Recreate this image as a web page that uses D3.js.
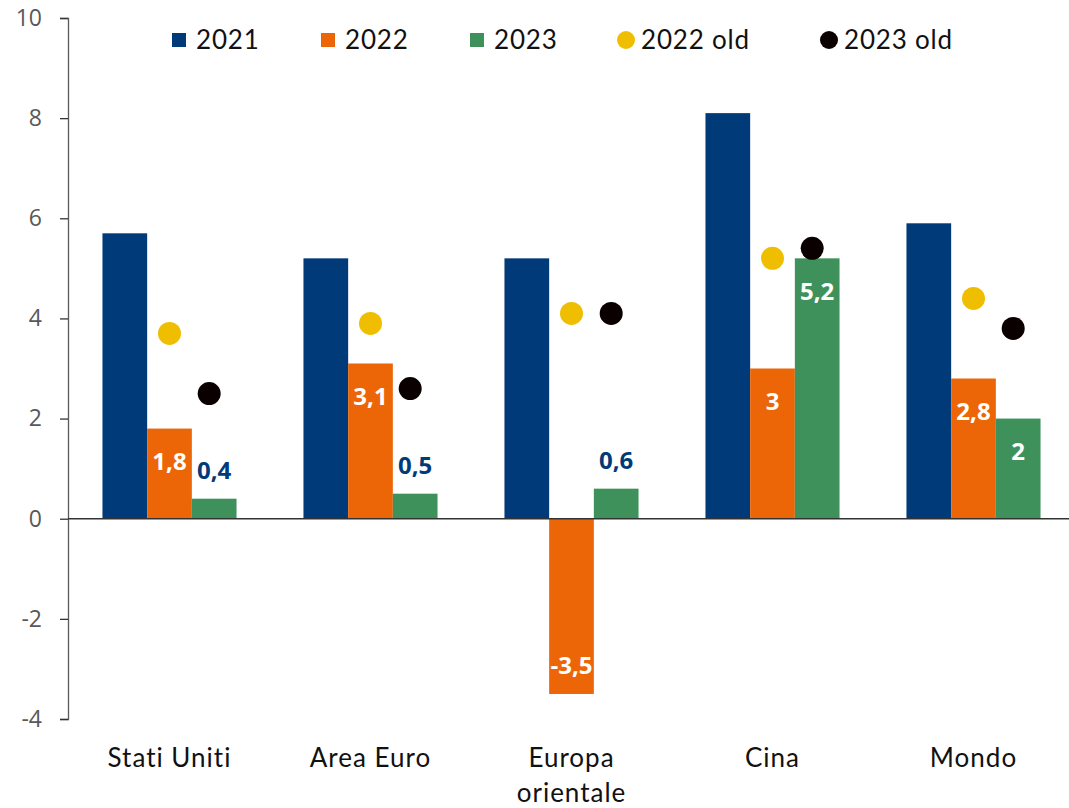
<!DOCTYPE html>
<html>
<head>
<meta charset="utf-8">
<script src="https://cdn.jsdelivr.net/npm/d3@7"></script>
<style>
  html, body { margin: 0; padding: 0; background: #fff; }
  svg { display: block; }
</style>
</head>
<body>
<svg id="chart" width="1069" height="808"></svg>
<script>
const categories = [["Stati Uniti"], ["Area Euro"], ["Europa", "orientale"], ["Cina"], ["Mondo"]];
const barSeries = ["2021", "2022", "2023"];
const v2021 = [5.7, 5.2, 5.2, 8.1, 5.9];
const v2022 = [1.8, 3.1, -3.5, 3.0, 2.8];
const v2023 = [0.4, 0.5, 0.6, 5.2, 2.0];
const old2022 = [3.7, 3.9, 4.1, 5.2, 4.4];
const old2023 = [2.5, 2.6, 4.1, 5.4, 3.8];
const yTicks = [-4, -2, 0, 2, 4, 6, 8, 10];

const colors = { "2021": "#003A78", "2022": "#EC6608", "2023": "#3E915A", "2022 old": "#F0BE00", "2023 old": "#0A0000" };
const barValues = { "2021": v2021, "2022": v2022, "2023": v2023 };

const svg = d3.select("#chart");
const catKeys = categories.map(c => c.join(" "));

const x = d3.scaleBand().domain(catKeys).range([69, 1074]).paddingInner(0.333).paddingOuter(0.1665);
const xs = d3.scaleBand().domain(barSeries).range([0, x.bandwidth()]).padding(0);
const y = d3.scaleLinear().domain([-4, 10]).range([719, 18]);

// bars
barSeries.forEach(s => {
  svg.append("g").selectAll("rect")
    .data(barValues[s].map((v, i) => ({ v, c: catKeys[i] })))
    .join("rect")
    .attr("x", d => x(d.c) + xs(s))
    .attr("width", xs.bandwidth())
    .attr("y", d => y(Math.max(0, d.v)))
    .attr("height", d => Math.abs(y(d.v) - y(0)))
    .attr("fill", colors[s]);
});

// y axis
const yAxis = d3.axisLeft(y).tickValues(yTicks).tickSize(8).tickPadding(18).tickFormat(d => String(d));
const ga = svg.append("g").attr("transform", "translate(68,0)").call(yAxis);
ga.select(".domain").attr("stroke", "#595959").attr("stroke-width", 1.3);
ga.selectAll(".tick line").attr("stroke", "#333").attr("stroke-width", 1.3);
ga.selectAll(".tick text").attr("fill", "#595959").style("font-family", "'Open Sans', Calibri, sans-serif").style("font-size", "23px");

// zero line
svg.append("line").attr("x1", 68).attr("x2", 1069).attr("y1", y(0)).attr("y2", y(0))
  .attr("stroke", "#333").attr("stroke-width", 1.5);

// category labels
const catG = svg.append("g").style("font-family", "'Lato', 'DejaVu Sans', sans-serif").style("font-size", "26px")
  .style("letter-spacing", "1px").attr("fill", "#111");
categories.forEach((c, i) => {
  const cx = x(catKeys[i]) + x.bandwidth() / 2;
  const t = catG.append("text").attr("text-anchor", "middle").attr("x", cx).attr("y", 767);
  c.forEach((line, j) => t.append("tspan").attr("x", cx).attr("dy", j === 0 ? 0 : 35).text(line));
});

// old dots
const dotG = svg.append("g");
dotG.selectAll("circle.o22").data(old2022).join("circle")
  .attr("cx", (d, i) => x(catKeys[i]) + xs("2022") + xs.bandwidth() / 2)
  .attr("cy", d => y(d)).attr("r", 11.5).attr("fill", colors["2022 old"]);
dotG.selectAll("circle.o23").data(old2023).join("circle")
  .attr("cx", (d, i) => x(catKeys[i]) + xs("2023") + xs.bandwidth() / 2 - 5)
  .attr("cy", d => y(d)).attr("r", 11.5).attr("fill", colors["2023 old"]);

// data labels
const fmt = v => String(v).replace(".", ",");
["2022", "2023"].forEach(s => {
  svg.append("g").selectAll("text")
    .data(barValues[s].map((v, i) => ({ v, c: catKeys[i] })))
    .join("text")
    .attr("text-anchor", "middle")
    .attr("dominant-baseline", "central")
    .attr("x", d => x(d.c) + xs(s) + xs.bandwidth() / 2)
    .attr("y", d => {
      if (Math.abs(d.v) < 1) return y(d.v) - 29;
      return d.v >= 0 ? y(d.v) + 32 : y(d.v) - 29;
    })
    .attr("fill", d => Math.abs(d.v) < 1 ? "#003A78" : "#fff")
    .style("font-family", "'Open Sans', Calibri, sans-serif")
    .style("font-weight", "bold")
    .style("font-size", "24px")
    .text(d => fmt(d.v));
});

// legend
const legend = [
  { k: "2021", shape: "rect", x: 172 },
  { k: "2022", shape: "rect", x: 321 },
  { k: "2023", shape: "rect", x: 470 },
  { k: "2022 old", shape: "circle", x: 617 },
  { k: "2023 old", shape: "circle", x: 820 }
];
const lg = svg.append("g").style("font-family", "'Lato', 'DejaVu Sans', sans-serif").style("font-size", "26px")
  .style("letter-spacing", "0.8px");
legend.forEach(l => {
  if (l.shape === "rect") {
    lg.append("rect").attr("x", l.x).attr("y", 33).attr("width", 14).attr("height", 14).attr("fill", colors[l.k]);
  } else {
    lg.append("circle").attr("cx", l.x + 9).attr("cy", 40).attr("r", 9).attr("fill", colors[l.k]);
  }
  lg.append("text").attr("x", l.x + 24).attr("y", 49).attr("fill", "#111").text(l.k);
});
</script>
</body>
</html>
